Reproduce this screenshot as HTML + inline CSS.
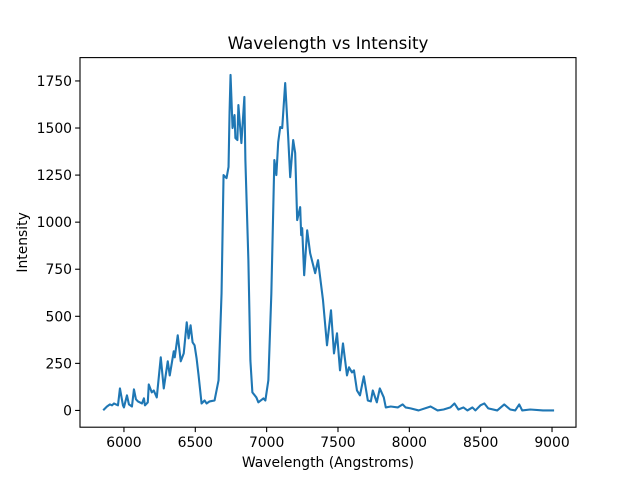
<!DOCTYPE html>
<html><head><meta charset="utf-8"><style>
body{margin:0;background:#fff;}
svg{font-family:"DejaVu Sans","Liberation Sans",sans-serif;}
</style></head><body>
<svg id="chart" width="640" height="480" xmlns="http://www.w3.org/2000/svg"></svg>
<script>
const wavelengths=[5860,5881,5902,5916,5930,5944,5958,5972,5993,6000,6021,6035,6056,6070,6084,6098,6126,6140,6147,6167,6174,6195,6209,6230,6258,6279,6307,6321,6349,6356,6377,6398,6419,6440,6453,6467,6481,6495,6509,6523,6544,6565,6579,6600,6635,6663,6684,6698,6719,6733,6740,6747,6761,6775,6781,6795,6802,6823,6844,6851,6872,6886,6900,6928,6942,6977,6991,7012,7033,7054,7068,7081,7095,7109,7130,7151,7165,7186,7200,7214,7235,7242,7249,7263,7284,7305,7340,7360,7395,7423,7451,7472,7493,7514,7535,7563,7577,7598,7612,7633,7654,7681,7709,7730,7744,7772,7793,7821,7835,7870,7919,7953,7974,8009,8065,8149,8198,8240,8288,8316,8344,8379,8407,8442,8463,8498,8526,8553,8616,8665,8707,8742,8770,8791,8847,8937,9007];
const intensities=[5,21,32,27,37,32,27,117,27,16,80,32,21,112,59,48,37,64,27,43,138,96,106,69,282,117,261,186,314,282,399,261,303,468,383,452,362,346,277,186,37,53,37,48,53,160,622,1250,1234,1293,1580,1782,1500,1569,1447,1436,1622,1420,1665,1330,798,266,96,69,43,64,53,160,622,1330,1250,1425,1505,1500,1739,1452,1239,1436,1367,1011,1080,931,968,718,957,835,729,798,585,346,532,303,410,213,356,186,229,202,213,106,80,181,53,48,106,43,117,69,16,21,16,32,16,11,0,21,0,5,16,37,5,16,0,16,0,27,37,11,0,32,5,0,32,0,5,0,0];
const xTicks=[6000,6500,7000,7500,8000,8500,9000];
const yTicks=[0,250,500,750,1000,1250,1500,1750];
const L=80,R=576,T=57.6,B=427.2,X0=5692,X1=9168,Y0=-89,Y1=1874;
const sx=v=>L+(v-X0)/(X1-X0)*(R-L);
const sy=v=>B-(v-Y0)/(Y1-Y0)*(B-T);
const svg=document.getElementById('chart');
const NS='http://www.w3.org/2000/svg';
function mk(t,a){const e=document.createElementNS(NS,t);for(const k in a)e.setAttribute(k,a[k]);svg.appendChild(e);return e;}
let p=mk('path',{d:wavelengths.map((w,i)=>(i?'L':'M')+sx(w).toFixed(2)+' '+sy(intensities[i]).toFixed(2)).join(''),fill:'none',stroke:'#1f77b4','stroke-width':2.1,'stroke-linejoin':'round','stroke-linecap':'square'});


let fr=mk('rect',{x:L,y:T,width:R-L,height:B-T,fill:'none',stroke:'#000','stroke-width':1.1});


xTicks.forEach(v=>{const x=sx(v);
 let l=mk('line',{x1:x,x2:x,y1:B,y2:B+4.9,stroke:'#000','stroke-width':1.1});
 
 
 let t=mk('text',{x:x,y:B+20,'text-anchor':'middle','font-size':13.9});t.textContent=v;
 
 });
yTicks.forEach(v=>{const y=sy(v);
 let l=mk('line',{x1:L-4.9,x2:L,y1:y,y2:y,stroke:'#000','stroke-width':1.1});
 
 
 let t=mk('text',{x:L-8,y:y+5,'text-anchor':'end','font-size':13.9});t.textContent=v;
 
 });
let ti=mk('text',{x:(L+R)/2,y:49,'text-anchor':'middle','font-size':16.7});ti.textContent='Wavelength vs Intensity';


let xl=mk('text',{x:(L+R)/2,y:467,'text-anchor':'middle','font-size':13.9});xl.textContent='Wavelength (Angstroms)';


let yl=mk('text',{x:27,y:(T+B)/2,'text-anchor':'middle','font-size':13.9,transform:'rotate(-90 27 '+(T+B)/2+')'});yl.textContent='Intensity';


</script>
</body></html>
